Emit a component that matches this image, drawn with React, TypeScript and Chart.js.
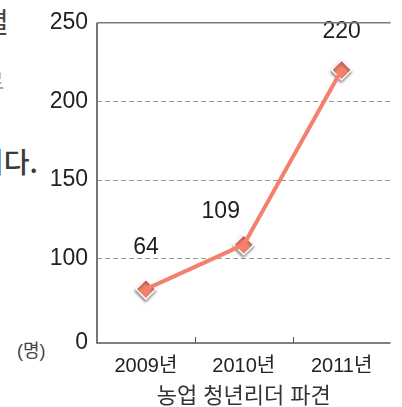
import React, { useEffect, useRef } from "react";
import { Chart, registerables, LinearScale } from "chart.js";

// Dispatch of young farm leaders, by year (persons)
const YEARS = ["2009년", "2010년", "2011년"];
const LEADERS = [64, 109, 220];
const Y_TICKS = [0, 100, 150, 200, 250];
const X_TITLE = "농업 청년리더 파견";
const UNIT = "(명)";

// The value axis is compressed below the break value.
const BREAK_AT = 100;
const LOWER_FACTOR = 0.535;

const toSpan = (v: number) =>
  v <= BREAK_AT ? v * LOWER_FACTOR : BREAK_AT * LOWER_FACTOR + (v - BREAK_AT);
const fromSpan = (s: number) =>
  s <= BREAK_AT * LOWER_FACTOR ? s / LOWER_FACTOR : s - BREAK_AT * LOWER_FACTOR + BREAK_AT;

class SplitLinearScale extends LinearScale {
  static id = "splitLinear";
  static defaults = LinearScale.defaults;
  getPixelForValue(value: number) {
    const lo = toSpan(this.min);
    const hi = toSpan(this.max);
    return this.getPixelForDecimal((toSpan(value) - lo) / (hi - lo));
  }
  getValueForPixel(pixel: number) {
    const lo = toSpan(this.min);
    const hi = toSpan(this.max);
    return fromSpan(lo + this.getDecimalForPixel(pixel) * (hi - lo));
  }
}

Chart.register(...registerables, SplitLinearScale as any);

const FONT = '"Liberation Sans", Arial, "Noto Sans CJK KR", sans-serif';
const LINE_COLOR = "#F4806E";
const AXIS_COLOR = "#555555";

// Solid frame: top line, both axes and small category separators
const framePlugin = {
  id: "frame",
  afterDraw(chart: any) {
    const { ctx, chartArea, scales } = chart;
    const { left, top, right, bottom } = chartArea;
    ctx.save();
    ctx.setLineDash([]);
    ctx.strokeStyle = "#7a7a7a";
    ctx.lineWidth = 1.5;
    ctx.beginPath();
    ctx.moveTo(left, top);
    ctx.lineTo(right, top);
    ctx.stroke();
    ctx.strokeStyle = AXIS_COLOR;
    ctx.lineWidth = 1.6;
    ctx.beginPath();
    ctx.moveTo(left, top);
    ctx.lineTo(left, bottom);
    ctx.lineTo(right, bottom);
    ctx.stroke();
    ctx.lineWidth = 1;
    const x = scales.x;
    for (let i = 1; i < YEARS.length; i++) {
      const px = Math.round((x.getPixelForValue(i - 1) + x.getPixelForValue(i)) / 2) + 0.5;
      ctx.beginPath();
      ctx.moveTo(px, bottom);
      ctx.lineTo(px, bottom - 6);
      ctx.stroke();
    }
    ctx.restore();
  },
};

// Soft drop shadow under the diamond markers only
const markerShadowPlugin = {
  id: "markerShadow",
  beforeDatasetDraw(chart: any, args: any) {
    if (args.index !== 1) return;
    const ctx = chart.ctx;
    ctx.save();
    ctx.shadowColor = "rgba(0,0,0,0.45)";
    ctx.shadowBlur = 3;
    ctx.shadowOffsetX = -0.5;
    ctx.shadowOffsetY = 2;
  },
  afterDatasetDraw(chart: any, args: any) {
    if (args.index !== 1) return;
    chart.ctx.restore();
  },
};

// Value labels next to the markers
const valueLabelPlugin = {
  id: "valueLabels",
  afterDatasetsDraw(chart: any, _args: any, opts: any) {
    const { ctx } = chart;
    const meta = chart.getDatasetMeta(1);
    const data = chart.data.datasets[1].data as number[];
    ctx.save();
    ctx.font = `23px ${FONT}`;
    ctx.fillStyle = "#1e1e1e";
    ctx.textAlign = "center";
    ctx.textBaseline = "middle";
    meta.data.forEach((pt: any, i: number) => {
      const [dx, dy] = opts.offsets[i] || [0, -38];
      ctx.fillText(String(data[i]), pt.x + dx, pt.y + dy);
    });
    ctx.restore();
  },
};

export default function App() {
  const canvasRef = useRef<HTMLCanvasElement | null>(null);

  useEffect(() => {
    if (!canvasRef.current) return;
    const chart = new Chart(canvasRef.current, {
      type: "line",
      data: {
        labels: YEARS,
        datasets: [
          {
            data: LEADERS,
            borderColor: LINE_COLOR,
            borderWidth: 4,
            pointRadius: 0,
            tension: 0,
            fill: false,
          },
          {
            data: LEADERS,
            showLine: false,
            pointStyle: "rectRot",
            pointRadius: 10,
            pointHoverRadius: 10,
            pointBackgroundColor: LINE_COLOR,
            pointBorderColor: "#ffffff",
            pointBorderWidth: 1.5,
          },
        ],
      },
      options: {
        animation: false,
        responsive: false,
        devicePixelRatio: 1,
        layout: { padding: { top: 20, right: 0, left: 0, bottom: 0 } },
        plugins: {
          legend: { display: false },
          tooltip: { enabled: false },
          valueLabels: { offsets: [[0, -41], [-23, -33], [0, -38]] },
        } as any,
        scales: {
          x: {
            type: "category",
            offset: true,
            grid: { display: false },
            border: { display: false },
            ticks: {
              color: "#222222",
              font: { family: FONT, size: 20 },
              padding: 3,
            },
            title: {
              display: true,
              text: X_TITLE,
              color: "#333333",
              font: { family: FONT, size: 22 },
              padding: { top: 0, bottom: -3 },
            },
            afterFit(scale: any) {
              scale.height = 64;
            },
          },
          y: {
            type: "splitLinear" as any,
            min: 0,
            max: 250,
            afterBuildTicks(scale: any) {
              scale.ticks = Y_TICKS.map((v) => ({ value: v }));
            },
            grid: {
              drawTicks: false,
              color: (c: any) =>
                c.tick && (c.tick.value === 0 || c.tick.value === 250) ? "rgba(0,0,0,0)" : "#9a9a9a",
              lineWidth: 1,
            },
            border: { display: false, dash: [5, 3] },
            ticks: {
              color: "#222222",
              font: { family: FONT, size: 23 },
              padding: 9,
            },
            afterFit(scale: any) {
              scale.width = 97;
            },
          },
        },
      },
      plugins: [framePlugin, markerShadowPlugin, valueLabelPlugin],
    });
    return () => chart.destroy();
  }, []);

  const sideText: React.CSSProperties = {
    position: "absolute",
    fontFamily: '"Noto Sans CJK KR", sans-serif',
    fontSize: 28,
    lineHeight: "34px",
    whiteSpace: "nowrap",
  };

  return (
    <div
      style={{
        position: "fixed",
        left: 0,
        top: 0,
        width: 402,
        height: 407,
        overflow: "hidden",
        background: "#ffffff",
      }}
    >
      <span style={{ ...sideText, left: -17, top: 4, color: "#444" }}>별</span>
      <span style={{ ...sideText, left: -21, top: 66, color: "#aaa" }}>루</span>
      <span style={{ ...sideText, left: -22, top: 144, color: "#3a3a3a", fontWeight: 500 }}>니다.</span>
      <span
        style={{
          position: "absolute",
          left: 17,
          top: 336,
          fontFamily: FONT,
          fontSize: 18,
          color: "#444",
          whiteSpace: "nowrap",
        }}
      >
        {UNIT}
      </span>
      <canvas
        ref={canvasRef}
        width={402}
        height={407}
        style={{ position: "absolute", left: 0, top: 0, width: 402, height: 407 }}
      />
    </div>
  );
}
